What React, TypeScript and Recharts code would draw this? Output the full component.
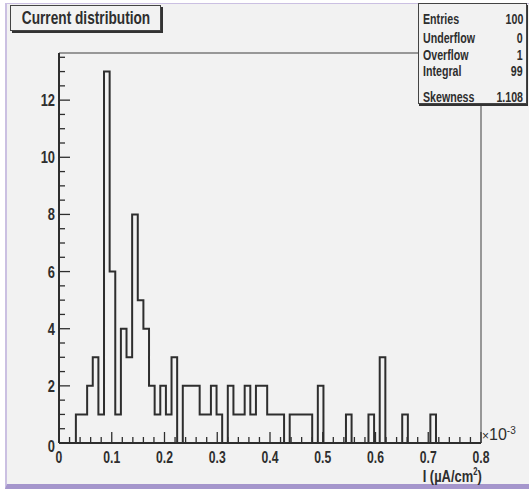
import { Line, LineChart, ReferenceLine, XAxis, YAxis } from "recharts";

// histogram: 75 bins on [0, 0.8] (x in units of 1e-3 uA/cm^2)
const binCounts = [
  0, 0, 0, 1, 1, 2, 3, 1, 13, 6, 1, 4, 3, 8, 5, 4, 2, 1, 2, 1, 3,
  0, 2, 2, 2, 1, 1, 2, 1, 0, 2, 1, 1, 2, 1, 2, 2, 1, 1, 1, 0, 1, 1, 1, 1, 0, 2,
  0, 0, 0, 0, 1, 0, 0, 0, 1, 0, 3, 0, 0, 0, 1, 0, 0, 0, 0, 1, 0, 0, 0, 0, 0, 0, 0, 0,
];
const xMin = 0;
const xMax = 0.8;
const yMax = 13.65;

const xMajorTicks = [0, 0.1, 0.2, 0.3, 0.4, 0.5, 0.6, 0.7, 0.8];
const yMajorTicks = [0, 2, 4, 6, 8, 10, 12];

const statsRows = [
  { label: "Entries", value: "100" },
  { label: "Underflow", value: "0" },
  { label: "Overflow", value: "1" },
  { label: "Integral", value: "99" },
  { label: "Skewness", value: "1.108" },
];

const binWidth = (xMax - xMin) / binCounts.length;
const histData = [
  ...binCounts.map((c, i) => ({ x: xMin + i * binWidth, n: c })),
  { x: xMax, n: binCounts[binCounts.length - 1] },
];

// minor ticks: 5 per major on x, 4 per major on y
const xTicks: number[] = [];
for (let i = 0; i <= 40; i++) xTicks.push(i * 0.02);
const yTicks: number[] = [];
for (let i = 0; i <= 27; i++) yTicks.push(i * 0.5);

const FONT = "'Liberation Sans', Arial, sans-serif";
const INK = "#2e2e2e";
const SQUEEZE = 0.76;

const isMajor = (v: number, list: number[]) =>
  list.some((m) => Math.abs(m - v) < 1e-6);

// condensed text for html labels
function Narrow({ children, origin = "left" }: { children: any; origin?: string }) {
  return (
    <span style={{ display: "inline-block", transform: `scaleX(${SQUEEZE})`, transformOrigin: origin, whiteSpace: "nowrap" }}>
      {children}
    </span>
  );
}

function XTick(props: any) {
  const { x, y, payload } = props;
  const v = payload.value as number;
  const major = isMajor(v, xMajorTicks);
  return (
    <g>
      <line x1={x} x2={x} y1={y} y2={y - (major ? 11 : 6)} stroke={INK} strokeWidth={1.3} />
      {major && (
        <text
          transform={`translate(${x},${y + 20}) scale(${SQUEEZE},1)`}
          textAnchor="middle"
          fill={INK}
          fontSize={16}
          fontWeight={700}
          fontFamily={FONT}
        >
          {v === 0 ? "0" : v.toFixed(1)}
        </text>
      )}
    </g>
  );
}

function YTick(props: any) {
  const { x, y, payload } = props;
  const v = payload.value as number;
  const major = isMajor(v, yMajorTicks);
  return (
    <g>
      <line x1={x} x2={x + (major ? 11 : 6)} y1={y} y2={y} stroke={INK} strokeWidth={1.3} />
      {major && (
        <text
          transform={`translate(${x - 4},${y + (v === 0 ? 9 : 6)}) scale(${SQUEEZE},1)`}
          textAnchor="end"
          fill={INK}
          fontSize={17}
          fontWeight={700}
          fontFamily={FONT}
        >
          {v}
        </text>
      )}
    </g>
  );
}

export default function App() {
  return (
    <div style={{ position: "absolute", left: 0, top: 0, width: 529, height: 494, background: "#ffffff", fontFamily: FONT }}>
      <div
        style={{
          position: "absolute",
          left: 5,
          top: 3,
          width: 524,
          height: 486,
          boxSizing: "border-box",
          background: "#f2f2f2",
          borderLeft: "2px solid #cbc0e2",
          borderTop: "1px solid #cbc0e2",
          borderBottom: "5px solid #a596cc",
        }}
      />
      <div style={{ position: "absolute", left: 0, top: 0 }}>
        <LineChart width={529} height={494} data={histData} margin={{ top: 53, right: 48, bottom: 0, left: 0 }}>
          <XAxis
            type="number"
            dataKey="x"
            domain={[xMin, xMax]}
            ticks={xTicks}
            interval={0}
            height={51}
            tickSize={0}
            tickMargin={0}
            tickLine={false}
            axisLine={{ stroke: INK, strokeWidth: 2 }}
            tick={<XTick />}
            allowDataOverflow
          />
          <YAxis
            type="number"
            domain={[0, yMax]}
            ticks={yTicks}
            interval={0}
            width={59}
            tickSize={0}
            tickMargin={0}
            tickLine={false}
            axisLine={{ stroke: INK, strokeWidth: 2 }}
            tick={<YTick />}
            allowDataOverflow
          />
          <ReferenceLine y={yMax} stroke="#7a7a7a" strokeWidth={1.5} />
          <ReferenceLine x={xMax} stroke="#7a7a7a" strokeWidth={1.5} />
          <Line
            type="stepAfter"
            dataKey="n"
            stroke={INK}
            strokeWidth={2}
            dot={false}
            activeDot={false}
            isAnimationActive={false}
          />
        </LineChart>
      </div>

      {/* title box */}
      <div
        style={{
          position: "absolute",
          left: 10,
          top: 5,
          width: 151,
          height: 26,
          boxSizing: "border-box",
          border: "1px solid #444",
          boxShadow: "2px 2px 0 #333",
          background: "#f2f2f2",
          fontSize: 18,
          fontWeight: 700,
          color: INK,
          lineHeight: "24px",
        }}
      >
        <span
          style={{
            position: "absolute",
            left: "50%",
            top: 0,
            transform: `translateX(-50%) scaleX(${SQUEEZE})`,
            whiteSpace: "nowrap",
          }}
        >
          Current distribution
        </span>
      </div>

      {/* stats box */}
      <div
        style={{
          position: "absolute",
          left: 418,
          top: 3,
          width: 109,
          height: 101,
          boxSizing: "border-box",
          border: "1px solid #444",
          boxShadow: "1px 2px 0 #333",
          background: "#f2f2f2",
          color: INK,
          fontSize: 14,
          fontWeight: 700,
        }}
      >
        {statsRows.map((r, i) => (
          <div
            key={r.label}
            style={{
              position: "absolute",
              left: 4,
              right: 3,
              top: [9, 28, 45, 61, 87][i],
              lineHeight: "13px",
              height: 13,
            }}
          >
            <span style={{ position: "absolute", left: 0 }}>
              <Narrow origin="left">{r.label}</Narrow>
            </span>
            <span style={{ position: "absolute", right: 0 }}>
              <Narrow origin="right">{r.value}</Narrow>
            </span>
          </div>
        ))}
      </div>

      {/* exponent and axis title */}
      <div style={{ position: "absolute", left: 482, top: 425, fontSize: 16, color: INK, whiteSpace: "nowrap" }}>
        <span style={{ fontSize: 12 }}>×</span>10<sup style={{ fontSize: 10 }}>-3</sup>
      </div>
      <div style={{ position: "absolute", right: 529 - 482, top: 466, fontSize: 17, fontWeight: 700, color: INK, whiteSpace: "nowrap" }}>
        <Narrow origin="right">
          I (µA/cm<sup style={{ fontSize: 10 }}>2</sup>)
        </Narrow>
      </div>
    </div>
  );
}
